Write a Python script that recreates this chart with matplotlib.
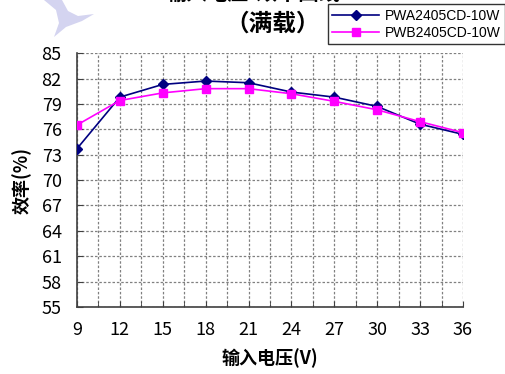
import matplotlib
matplotlib.use("Agg")
import matplotlib.pyplot as plt
from matplotlib.ticker import MultipleLocator
from matplotlib.patches import Polygon

plt.rcParams['font.family'] = ['Noto Sans CJK SC', 'DejaVu Sans']

voltage = [9, 12, 15, 18, 21, 24, 27, 30, 33, 36]
pwa = [73.7, 79.8, 81.3, 81.7, 81.5, 80.4, 79.8, 78.7, 76.6, 75.4]
pwb = [76.5, 79.4, 80.3, 80.8, 80.8, 80.2, 79.3, 78.3, 76.9, 75.6]
series_names = ['PWA2405CD-10W', 'PWB2405CD-10W']
yticks = [55, 58, 61, 64, 67, 70, 73, 76, 79, 82, 85]

W, H = 506, 374
fig = plt.figure(figsize=(W / 100, H / 100), dpi=100)

# faint watermark shape in top-left (figure pixel outline)
wm_px = [(44, 0), (62, 0), (68, 11), (78, 16), (94, 14), (82, 21), (66, 27),
         (54, 37), (59, 23), (56, 10)]
wm = Polygon([(x / W, 1 - y / H) for x, y in wm_px], closed=True,
             transform=fig.transFigure, facecolor='#d4d4f0',
             edgecolor='none', zorder=0)
fig.patches.append(wm)

ax = fig.add_axes([0.152, 0.179, 0.763, 0.679])
ax.plot(voltage, pwa, color='#000080', marker='D', markersize=5, lw=1.2,
        label=series_names[0], zorder=3)
ax.plot(voltage, pwb, color='#ff00ff', marker='s', markersize=6, lw=1.2,
        label=series_names[1], zorder=3)

ax.set_xlim(9, 36)
ax.set_ylim(55, 85)
ax.set_xticks(voltage)
ax.xaxis.set_minor_locator(MultipleLocator(1.5))
ax.set_yticks(yticks)
ax.grid(True, which='both', axis='x', color='#808080', linestyle=(0, (2, 1.5)), lw=0.9)
ax.grid(True, which='major', axis='y', color='#808080', linestyle=(0, (2, 1.5)), lw=0.9)
for s in ['top', 'right']:
    ax.spines[s].set_visible(False)
for s in ['left', 'bottom']:
    ax.spines[s].set_color('#404040')
    ax.spines[s].set_linewidth(1.2)
ax.tick_params(axis='both', which='both', direction='in', length=4,
               color='#404040', labelsize=13)
ax.tick_params(axis='y', pad=11)
ax.tick_params(axis='x', pad=10)

ax.set_xlabel('输入电压(V)', fontsize=13, fontweight='bold', labelpad=7)
ax.set_ylabel('效率(%)', fontsize=13, fontweight='bold', labelpad=7)

fig.text(0.50, 1.018, '输入电压-效率曲线', ha='center', va='center',
         fontsize=15, fontweight='bold')
fig.text(0.538, 0.938, '（满载）', ha='center', va='center',
         fontsize=17, fontweight='bold')

leg = fig.legend(loc='upper right', bbox_to_anchor=(0.998, 0.988),
                 prop={'family': 'Liberation Sans', 'size': 10},
                 frameon=True, fancybox=False, edgecolor='black',
                 borderpad=0.3, handlelength=3.4, labelspacing=0.25,
                 handletextpad=0.4, borderaxespad=0)
leg.get_frame().set_linewidth(1.0)

fig.savefig('out.png', dpi=100)
